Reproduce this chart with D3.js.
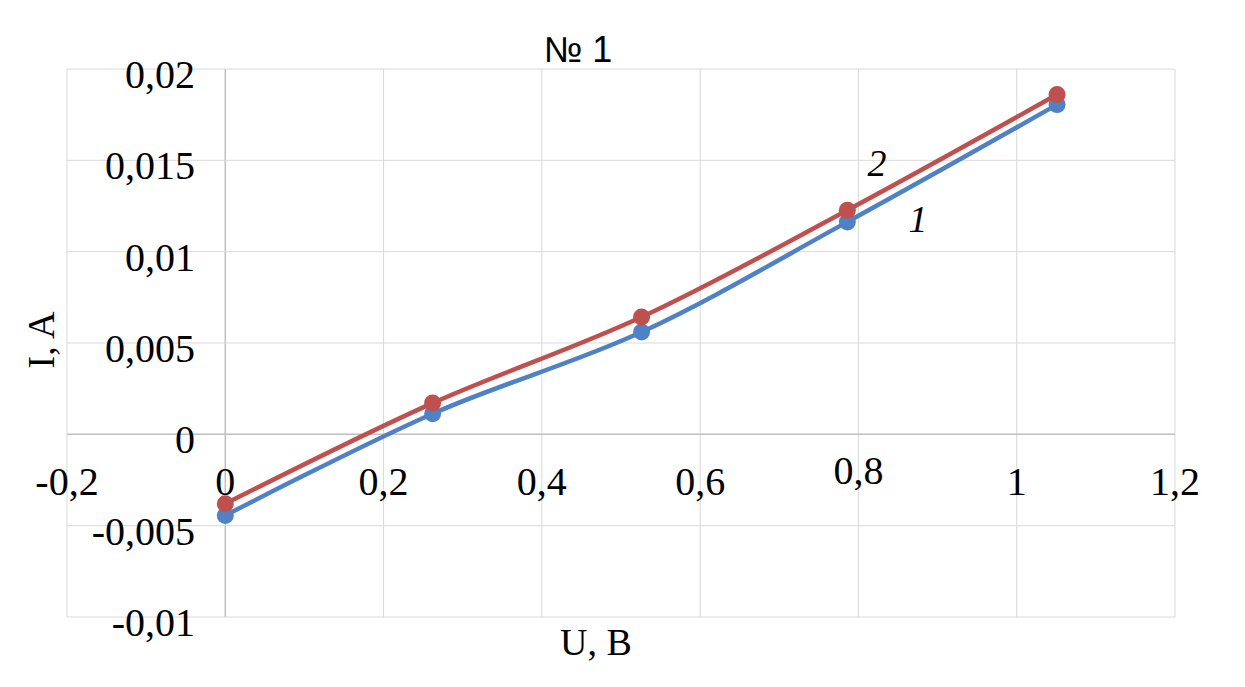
<!DOCTYPE html>
<html>
<head>
<meta charset="utf-8">
<script src="https://cdn.jsdelivr.net/npm/d3@7"></script>
<style>
  body { margin: 0; background: #fff; }
  text { font-family: "Liberation Serif", "Times New Roman", serif; fill: #000; }
</style>
</head>
<body>
<script>
// voltage, V (both series measured at the same points)
const voltage = [0, 0.262, 0.526, 0.786, 1.051];
// series 1 (blue) and series 2 (red), current in A
const current1 = [-0.00444, 0.00113, 0.0056, 0.01163, 0.01805];
const current2 = [-0.0038, 0.00171, 0.00642, 0.01227, 0.0186];
const xTicks = [-0.2, 0, 0.2, 0.4, 0.6, 0.8, 1, 1.2];
const yTicks = [-0.01, -0.005, 0, 0.005, 0.01, 0.015, 0.02];

const width = 1245, height = 687;
const plotLeft = 67, plotRight = 1175, plotTop = 69, plotBottom = 617;

const svg = d3.select("body").append("svg")
    .attr("width", width)
    .attr("height", height);

const x = d3.scaleLinear().domain([-0.2, 1.2]).range([plotLeft, plotRight]);
const y = d3.scaleLinear().domain([-0.01, 0.02]).range([plotBottom, plotTop]);

const fmt = v => String(+v.toFixed(3)).replace(".", ",");

// grid
svg.append("g").selectAll("line")
    .data(xTicks)
    .enter().append("line")
    .attr("x1", d => x(d)).attr("x2", d => x(d))
    .attr("y1", plotTop).attr("y2", plotBottom)
    .style("stroke", d => d === 0 ? "#bfbfbf" : "#d9d9d9")
    .style("stroke-width", d => d === 0 ? 1.5 : 1);

svg.append("g").selectAll("line")
    .data(yTicks)
    .enter().append("line")
    .attr("x1", plotLeft).attr("x2", plotRight)
    .attr("y1", d => y(d)).attr("y2", d => y(d))
    .style("stroke", d => d === 0 ? "#bfbfbf" : "#d9d9d9")
    .style("stroke-width", d => d === 0 ? 1.5 : 1);

// tick labels
svg.append("g").selectAll("text")
    .data(yTicks)
    .enter().append("text")
    .attr("x", 195)
    .attr("y", d => y(d) + 19)
    .attr("text-anchor", "end")
    .style("font-size", "40px")
    .text(fmt);

svg.append("g").selectAll("text")
    .data(xTicks)
    .enter().append("text")
    .attr("x", d => x(d))
    .attr("y", d => d === 0.8 ? 484 : 495)
    .attr("text-anchor", "middle")
    .style("font-size", "40px")
    .text(fmt);

// series
const line = d3.line()
    .x(d => x(d[0]))
    .y(d => y(d[1]))
    .curve(d3.curveCatmullRom.alpha(0.5));

const series = [
    { values: current1, color: "#4f81c6" },
    { values: current2, color: "#c0504d" }
];

series.forEach(s => {
    const pts = voltage.map((v, i) => [v, s.values[i]]);
    svg.append("path")
        .datum(pts)
        .attr("d", line)
        .style("fill", "none")
        .style("stroke", s.color)
        .style("stroke-width", 4.5);
    svg.append("g").selectAll("circle")
        .data(pts)
        .enter().append("circle")
        .attr("cx", d => x(d[0]))
        .attr("cy", d => y(d[1]))
        .attr("r", 8.5)
        .style("fill", s.color);
});

// curve numbers
svg.append("text").attr("x", 918).attr("y", 232)
    .attr("text-anchor", "middle")
    .style("font-size", "38px").style("font-style", "italic")
    .text("1");
svg.append("text").attr("x", 877).attr("y", 176)
    .attr("text-anchor", "middle")
    .style("font-size", "38px").style("font-style", "italic")
    .text("2");

// titles
svg.append("text").attr("x", 578).attr("y", 62)
    .attr("text-anchor", "middle")
    .style("font-family", "'Liberation Sans', Arial, sans-serif")
    .style("font-size", "36px")
    .text("№ 1");

svg.append("text").attr("x", 596).attr("y", 655)
    .attr("text-anchor", "middle")
    .style("font-size", "38px")
    .text("U, B");

svg.append("text")
    .attr("transform", "translate(54,340) rotate(-90)")
    .attr("text-anchor", "middle")
    .style("font-size", "38px")
    .text("I, A");
</script>
</body>
</html>
